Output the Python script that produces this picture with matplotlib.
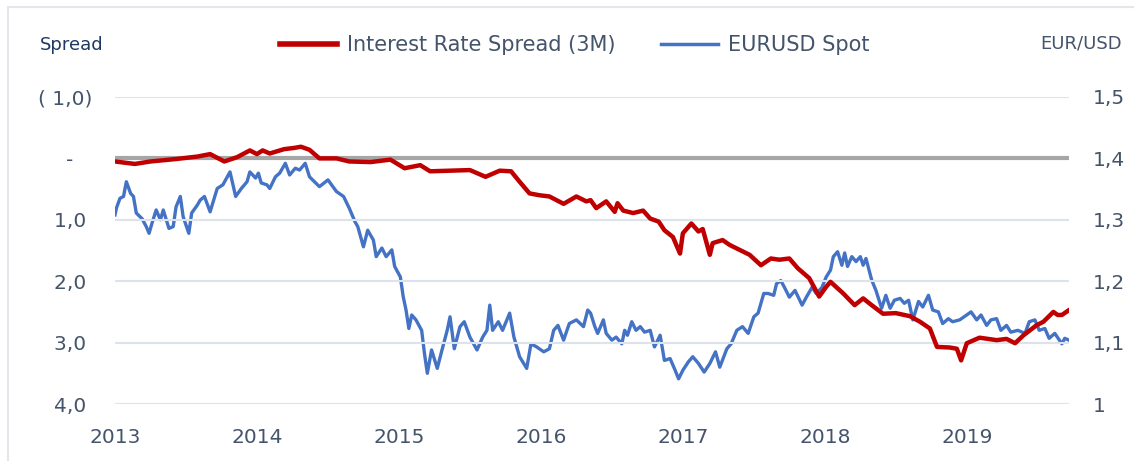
import matplotlib.pyplot as plt
from matplotlib.lines import Line2D

# interest rate spread (3M), decimal year -> spread (left axis, inverted)
spread_t = [2013.00, 2013.14, 2013.25, 2013.43, 2013.58, 2013.67, 2013.77, 2013.86, 2013.95, 2014.00,
            2014.04, 2014.09, 2014.19, 2014.26, 2014.31, 2014.37, 2014.44, 2014.56,
            2014.65, 2014.80, 2014.94, 2015.04, 2015.15, 2015.22, 2015.36, 2015.50, 2015.61, 2015.71,
            2015.79, 2015.85, 2015.92, 2015.99, 2016.06, 2016.16, 2016.25, 2016.32,
            2016.35, 2016.39, 2016.46, 2016.52, 2016.54, 2016.58, 2016.65, 2016.72, 2016.77, 2016.83,
            2016.87, 2016.93, 2016.98, 2017.00, 2017.06, 2017.11, 2017.14, 2017.19, 2017.21, 2017.28,
            2017.33, 2017.40, 2017.47, 2017.55, 2017.62, 2017.68, 2017.75, 2017.81, 2017.89, 2017.96,
            2018.01, 2018.04, 2018.13, 2018.21, 2018.27, 2018.33, 2018.41, 2018.50, 2018.60, 2018.67,
            2018.74, 2018.79, 2018.88, 2018.93, 2018.96, 2019.00, 2019.09, 2019.21, 2019.28, 2019.34,
            2019.40, 2019.49, 2019.54, 2019.61, 2019.64, 2019.67, 2019.72]
spread_v = [0.05, 0.09, 0.05, 0.01, -0.03, -0.07, 0.05, -0.02, -0.13, -0.07,
            -0.13, -0.08, -0.15, -0.17, -0.19, -0.14, 0.00, 0.00,
            0.05, 0.06, 0.02, 0.16, 0.11, 0.21, 0.20, 0.19, 0.30, 0.20,
            0.21, 0.38, 0.57, 0.60, 0.62, 0.74, 0.62, 0.70,
            0.68, 0.81, 0.70, 0.87, 0.73, 0.85, 0.89, 0.85, 0.98, 1.03,
            1.17, 1.28, 1.55, 1.22, 1.06, 1.19, 1.15, 1.57, 1.38, 1.33,
            1.41, 1.49, 1.57, 1.74, 1.63, 1.65, 1.63, 1.79, 1.95, 2.25,
            2.09, 2.01, 2.20, 2.39, 2.28, 2.39, 2.53, 2.52, 2.57, 2.66,
            2.77, 3.07, 3.08, 3.10, 3.29, 3.01, 2.92, 2.96, 2.94, 3.01,
            2.88, 2.72, 2.66, 2.50, 2.55, 2.55, 2.47]

# EURUSD spot, decimal year -> rate (right axis)
fx_t = [2013.00, 2013.01, 2013.035, 2013.06, 2013.08, 2013.11, 2013.13, 2013.15, 2013.19, 2013.22,
        2013.24, 2013.26, 2013.29, 2013.32, 2013.34, 2013.38, 2013.41, 2013.43, 2013.46, 2013.48,
        2013.52, 2013.54, 2013.58, 2013.60, 2013.63, 2013.67, 2013.72, 2013.76, 2013.81, 2013.85,
        2013.89, 2013.93, 2013.95, 2013.99, 2014.01, 2014.03, 2014.07, 2014.09, 2014.13, 2014.16,
        2014.20, 2014.23, 2014.27, 2014.30, 2014.34, 2014.37, 2014.44, 2014.50, 2014.56, 2014.61,
        2014.65, 2014.69, 2014.71, 2014.75, 2014.78, 2014.82, 2014.84, 2014.88, 2014.91, 2014.95,
        2014.97, 2015.01, 2015.03, 2015.05, 2015.07, 2015.09, 2015.12, 2015.16, 2015.18, 2015.20,
        2015.23, 2015.27, 2015.30, 2015.34, 2015.36, 2015.39, 2015.43, 2015.46, 2015.50, 2015.55,
        2015.59, 2015.62, 2015.64, 2015.66, 2015.70, 2015.73, 2015.78, 2015.81, 2015.85, 2015.90,
        2015.93, 2015.97, 2016.02, 2016.06, 2016.09, 2016.12, 2016.16, 2016.20, 2016.25, 2016.30,
        2016.33, 2016.35, 2016.38, 2016.40, 2016.44, 2016.46, 2016.50, 2016.53, 2016.57, 2016.59,
        2016.61, 2016.64, 2016.67, 2016.70, 2016.73, 2016.77, 2016.80, 2016.84, 2016.87, 2016.91,
        2016.94, 2016.97, 2017.00, 2017.04, 2017.07, 2017.11, 2017.15, 2017.19, 2017.23, 2017.26,
        2017.31, 2017.34, 2017.38, 2017.42, 2017.46, 2017.50, 2017.53, 2017.57, 2017.60, 2017.64,
        2017.66, 2017.69, 2017.72, 2017.75, 2017.79, 2017.84, 2017.87, 2017.91, 2017.94, 2017.98,
        2018.01, 2018.04, 2018.06, 2018.09, 2018.12, 2018.14, 2018.16, 2018.19, 2018.22, 2018.25,
        2018.27, 2018.29, 2018.33, 2018.36, 2018.40, 2018.43, 2018.46, 2018.49, 2018.53, 2018.56,
        2018.59, 2018.62, 2018.66, 2018.69, 2018.73, 2018.76, 2018.80, 2018.83, 2018.87, 2018.90,
        2018.95, 2019.00, 2019.03, 2019.07, 2019.10, 2019.14, 2019.17, 2019.21, 2019.24, 2019.28,
        2019.31, 2019.36, 2019.41, 2019.44, 2019.48, 2019.51, 2019.55, 2019.58, 2019.62, 2019.67,
        2019.69, 2019.72]
fx_v = [1.308, 1.319, 1.335, 1.338, 1.362, 1.343, 1.338, 1.311, 1.302, 1.289,
        1.278, 1.294, 1.316, 1.300, 1.316, 1.286, 1.289, 1.321, 1.338, 1.305,
        1.278, 1.311, 1.324, 1.332, 1.338, 1.313, 1.351, 1.357, 1.378, 1.338,
        1.351, 1.362, 1.378, 1.368, 1.376, 1.360, 1.357, 1.351, 1.370, 1.376,
        1.392, 1.373, 1.384, 1.381, 1.392, 1.370, 1.354, 1.365, 1.346, 1.338,
        1.319, 1.297, 1.289, 1.256, 1.283, 1.267, 1.240, 1.254, 1.240, 1.251,
        1.224, 1.207, 1.175, 1.153, 1.123, 1.145, 1.137, 1.120, 1.082, 1.050,
        1.088, 1.058, 1.085, 1.120, 1.142, 1.090, 1.126, 1.134, 1.109, 1.088,
        1.109, 1.120, 1.161, 1.120, 1.134, 1.120, 1.148, 1.109, 1.077, 1.058,
        1.098, 1.093, 1.085, 1.090, 1.120, 1.128, 1.104, 1.131, 1.137, 1.126,
        1.153, 1.148, 1.126, 1.115, 1.137, 1.115, 1.104, 1.109, 1.098, 1.120,
        1.112, 1.134, 1.120, 1.126, 1.117, 1.120, 1.093, 1.112, 1.071, 1.074,
        1.058, 1.041, 1.055, 1.069, 1.077, 1.066, 1.052, 1.066, 1.085, 1.060,
        1.090, 1.098, 1.120, 1.126, 1.115, 1.142, 1.148, 1.180, 1.180, 1.177,
        1.196, 1.201, 1.188, 1.174, 1.185, 1.161, 1.174, 1.190, 1.180, 1.190,
        1.207, 1.218, 1.240, 1.248, 1.226, 1.246, 1.224, 1.240, 1.232, 1.240,
        1.226, 1.237, 1.202, 1.185, 1.156, 1.177, 1.156, 1.169, 1.172, 1.164,
        1.169, 1.137, 1.167, 1.158, 1.177, 1.153, 1.150, 1.131, 1.139, 1.134,
        1.137, 1.145, 1.150, 1.137, 1.145, 1.128, 1.137, 1.139, 1.120, 1.128,
        1.117, 1.120, 1.115, 1.134, 1.137, 1.120, 1.123, 1.107, 1.115, 1.098,
        1.107, 1.104]

years = [2013, 2014, 2015, 2016, 2017, 2018, 2019]
left_ticks = [-1, 0, 1, 2, 3, 4]
left_labels = ["( 1,0)", "-   ", "1,0 ", "2,0 ", "3,0 ", "4,0 "]
right_ticks = [1.0, 1.1, 1.2, 1.3, 1.4, 1.5]
right_labels = ["1", "1,1", "1,2", "1,3", "1,4", "1,5"]

txt = "#44546A"
red = "#C00000"
blue = "#4472C4"
grid = "#DCE3EB"

fig = plt.figure(figsize=(11.34, 4.61), dpi=100)
ax = fig.add_axes([115 / 1134, 1 - 404 / 461, (1069 - 115) / 1134, (404 - 97) / 461])
ax2 = ax.twinx()

ax.set_xlim(2013.0, 2019.72)
ax.set_ylim(4, -1)
ax2.set_ylim(1.0, 1.5)

for t in left_ticks:
    if t != 0:
        ax.axhline(t, color=grid, lw=1.5, zorder=0)
ax.axhline(0, color="#A6A6A6", lw=3, zorder=1)

ax2.plot(fx_t, fx_v, color=blue, lw=2.4, zorder=2)
ax.plot(spread_t, spread_v, color=red, lw=3.2, zorder=3)
ax.set_zorder(ax2.get_zorder() + 1)
ax.patch.set_visible(False)

ax.set_xticks(years)
ax.set_xticklabels([str(y) for y in years])
ax.set_yticks(left_ticks)
ax.set_yticklabels(left_labels)
ax2.set_yticks(right_ticks)
ax2.set_yticklabels(right_labels)

for a in (ax, ax2):
    for s in a.spines.values():
        s.set_visible(False)
    a.tick_params(length=0, labelsize=14.5, colors=txt)
ax.tick_params(axis="x", pad=17)
ax.tick_params(axis="y", pad=16)
ax2.tick_params(axis="y", pad=17)

fig.text(40 / 1134, 1 - 45 / 461, "Spread", fontsize=13, color="#1F3864", va="center", ha="left")
fig.text(1122 / 1134, 1 - 43 / 461, "EUR/USD", fontsize=13, color=txt, va="center", ha="right")

handles = [Line2D([], [], color=red, lw=4), Line2D([], [], color=blue, lw=2.5)]
fig.legend(handles, ["Interest Rate Spread (3M)", "EURUSD Spot"], loc="center",
           bbox_to_anchor=(575 / 1134, 1 - 45 / 461), ncol=2, frameon=False,
           fontsize=15, labelcolor=txt, handlelength=2.7, columnspacing=2.2, handletextpad=0.5)

# light frame (left and top edges only)
fig.add_artist(Line2D([7.5 / 1134, 7.5 / 1134], [0, 1 - 7 / 461], color="#E3E6EA", lw=1.5))
fig.add_artist(Line2D([7.5 / 1134, 1], [1 - 7 / 461, 1 - 7 / 461], color="#E3E6EA", lw=1.5))

plt.savefig("out.png", dpi=100)
